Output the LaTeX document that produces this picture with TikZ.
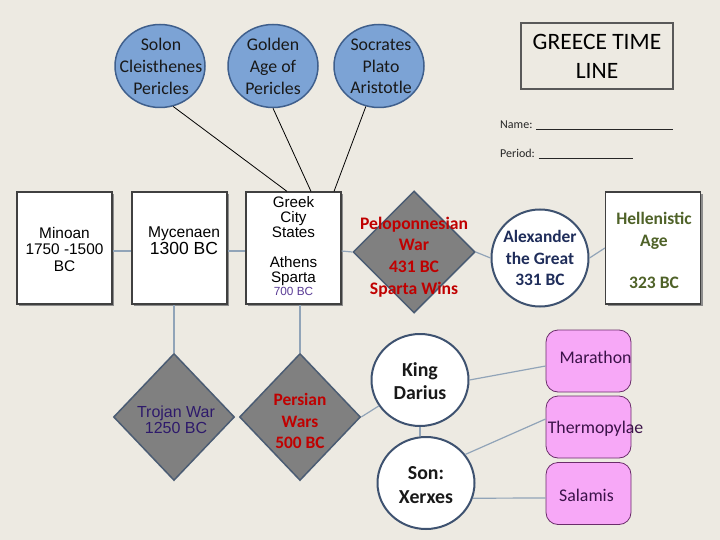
\documentclass[tikz,border=0pt]{standalone}
\usepackage{fontspec}
\setmainfont{Carlito}
\newfontfamily\arialf{Liberation Sans}
\usetikzlibrary{shapes.geometric,shadows}
\definecolor{bgc}{RGB}{237,234,226}
\definecolor{ellf}{RGB}{124,163,213}
\definecolor{ellb}{RGB}{63,95,140}
\definecolor{diaf}{RGB}{128,128,128}
\definecolor{diab}{RGB}{75,92,115}
\definecolor{circb}{RGB}{62,82,112}
\definecolor{redt}{RGB}{192,0,0}
\definecolor{navyt}{RGB}{31,45,90}
\definecolor{olivet}{RGB}{79,98,40}
\definecolor{trojt}{RGB}{46,26,107}
\definecolor{purplet}{RGB}{90,60,150}
\definecolor{connc}{RGB}{145,164,184}
\definecolor{pinkf}{RGB}{247,168,247}
\definecolor{pinkb}{RGB}{107,45,107}
\definecolor{pinkt}{RGB}{59,18,73}
\newcommand{\myfs}[2]{\fontsize{#1}{#2}\selectfont}
\begin{document}
\begin{tikzpicture}[x=1pt,y=-1pt,
  tbox/.style={draw=black!75, line width=1.2pt, fill=white, minimum width=95pt, minimum height=112pt, inner sep=0pt,
    drop shadow={shadow xshift=2pt,shadow yshift=-2pt,fill=black!45,opacity=1}},
  ell/.style={ellipse, draw=ellb, line width=1.5pt, fill=ellf, minimum width=90pt, minimum height=83pt, inner sep=0pt},
  dia/.style={diamond, draw=diab, line width=1.5pt, fill=diaf, inner sep=0pt},
  circ/.style={ellipse, draw=circb, line width=2pt, fill=white, inner sep=0pt},
  pinkbox/.style={rectangle, draw=pinkb, line width=0.8pt, fill=pinkf, rounded corners=12pt, minimum width=85pt, minimum height=62pt, inner sep=0pt},
  conn/.style={draw=connc, line width=1.2pt},
  blk/.style={draw=black, line width=0.8pt},
  txt/.style={align=center, inner sep=0pt}
]
\useasboundingbox (0,0) rectangle (720,540);
\fill[bgc] (0,0) rectangle (720,540);

% title
\node[draw=black!65, line width=1.5pt, minimum width=152pt, minimum height=66pt, inner sep=0pt] (titlebox) at (597,56) {};
\node[txt, font=\myfs{23.5}{28.5}] (title) at (597,56.5) {GREECE TIME\\LINE};
\node[anchor=base west, inner sep=0pt, font=\myfs{12}{14}, text=black!85] (name) at (500,129) {Name: \rule[-1pt]{137pt}{0.7pt}};
\node[anchor=base west, inner sep=0pt, font=\myfs{12}{14}, text=black!85] (period) at (500,158) {Period: \rule[-1pt]{94pt}{0.7pt}};

% ellipses
\node[ell] (solon) at (160,66) {};
\node[ell] (golden) at (273,66) {};
\node[ell] (socr) at (379,66) {};
\node[txt, font=\myfs{17.8}{21.7}, text=black!90] (solont) at (161,66.5) {Solon\\Cleisthenes\\Pericles};
\node[txt, font=\myfs{17.8}{21.7}, text=black!90] (goldent) at (273,66.5) {Golden\\Age of\\Pericles};
\node[txt, font=\myfs{17.8}{21.7}, text=black!90] (socrt) at (381,66.5) {Socrates\\Plato\\Aristotle};

% boxes
\node[tbox] (minoan) at (64.5,248) {};
\node[tbox] (myc) at (179.5,248) {};
\node[tbox] (greek) at (293.5,248) {};
\node[tbox] (hell) at (653,248) {};
\node[txt, font=\arialf\myfs{15.4}{16.5}] (minoant) at (64.5,249) {Minoan\\1750 -1500\\BC};
\node[txt, font=\arialf\myfs{15.6}{17}] (myct) at (184,241) {Mycenaen\\{\myfs{17.5}{17}1300 BC}};
\node[txt, font=\arialf\myfs{15.2}{15}] (greekt) at (293.5,246) {Greek\\City\\States\\[15pt]Athens\\Sparta\\[-2pt]{\myfs{11.8}{13}\color{purplet}700 BC}};
\node[txt, font=\bfseries\myfs{17.5}{22}, text=olivet] (hellt) at (654,250) {Hellenistic\\Age\\[20pt]323 BC};

% diamonds
\node[dia, minimum width=122pt, minimum height=122pt] (pelo) at (414,252) {};
\node[dia, minimum width=121pt, minimum height=127pt] (troj) at (174,417) {};
\node[dia, minimum width=121pt, minimum height=127pt] (pers) at (300,417) {};
\node[txt, font=\bfseries\myfs{17.6}{21.7}, text=redt] (pelot) at (414,257) {Peloponnesian\\War\\431 BC\\Sparta Wins};
\node[txt, font=\bfseries\myfs{17.4}{21.5}, text=redt] (perst) at (300,421) {Persian\\Wars\\500 BC};
\node[txt, font=\arialf\myfs{16}{16.5}, text=trojt] (trojt) at (176,420) {Trojan War\\1250 BC};

% circles
\node[circ, minimum width=97pt, minimum height=97pt] (alex) at (540,258) {};
\node[circ, minimum width=97pt, minimum height=92pt] (darius) at (420,380) {};
\node[circ, minimum width=97pt, minimum height=92pt] (xerxes) at (426,483) {};
\node[txt, font=\bfseries\myfs{17.4}{21.5}, text=navyt] (alext) at (540,258) {Alexander\\the Great\\331 BC};
\node[txt, font=\bfseries\myfs{19.8}{23.5}, text=black!90] (dariust) at (420,381) {King\\Darius};
\node[txt, font=\bfseries\myfs{19.8}{24}, text=black!90] (xerxest) at (426,485) {Son:\\Xerxes};

% pink boxes
\node[pinkbox] (mar) at (588.5,361) {};
\node[pinkbox] (ther) at (588.5,427) {};
\node[pinkbox] (sal) at (588.5,493.5) {};
\node[txt, font=\myfs{17.8}{20}, text=pinkt] (mart) at (595.5,357) {Marathon};
\node[txt, font=\myfs{17.8}{20}, text=pinkt] (thert) at (595.5,429) {Thermopylae};
\node[txt, font=\myfs{17.8}{20}, text=pinkt] (salt) at (586.5,495) {Salamis};

% connectors
\begin{scope}[on background layer/.style={}]
\end{scope}
\draw[blk] (solon.-72) -- ([xshift=-6.5pt]greek.north);
\draw[blk] (golden.south) -- ([xshift=17.5pt]greek.north);
\draw[blk] (socr.-108) -- ([xshift=40.5pt]greek.north);

\draw[conn] ([yshift=-3pt]minoan.east) -- ([yshift=-3pt]myc.west);
\draw[conn] ([yshift=-3pt]myc.east) -- ([yshift=-3pt]greek.west);
\draw[conn] ([yshift=-3pt]greek.east) -- (pelo.west);
\draw[conn] (pelo.east) -- (alex.west);
\draw[conn] (alex.east) -- (hell.west);
\draw[conn] (troj.north) -- (troj.north |- myc.south);
\draw[conn] (pers.north) -- (pers.north |- greek.south);
\draw[conn] (pers.east) -- (darius);
\draw[conn] (darius.south) -- (darius.south |- xerxes.north);
\draw[conn] (darius.east) -- ([yshift=-5pt]mar.west);
\draw[conn] (xerxes.36) -- ([yshift=8pt]ther.west);
\draw[conn] (xerxes.-18) -- ([yshift=-4.5pt]sal.west);
\end{tikzpicture}
\end{document}
